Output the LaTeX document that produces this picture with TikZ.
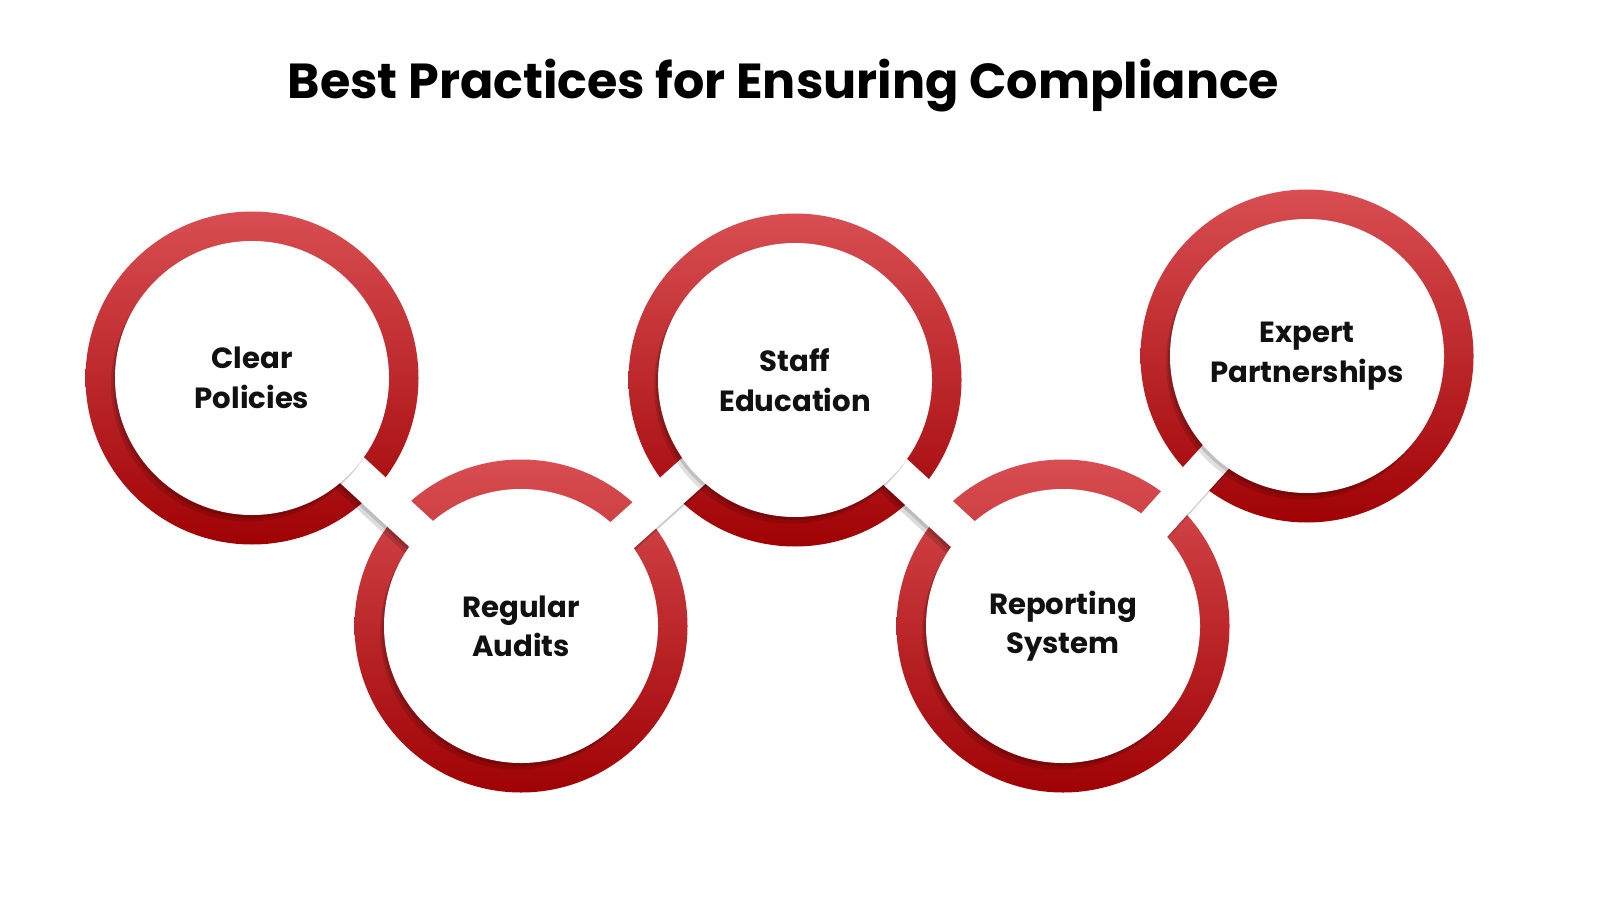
\documentclass[tikz,border=0pt]{standalone}
\usepackage{fontspec}
\setmainfont{Poppins}
\usetikzlibrary{shadows}

\definecolor{ringtop}{RGB}{216,78,82}
\definecolor{ringbot}{RGB}{160,2,4}
\definecolor{inktext}{RGB}{17,17,17}

\pgfdeclarelayer{rings}
\pgfdeclarelayer{links}
\pgfsetlayers{rings,links,main}

\begin{document}
\begin{tikzpicture}
       \tikzset{
         ring/.style={top color=ringtop, bottom color=ringbot},
         disc/.style={circle, fill=white, minimum size=2.74cm, inner sep=0pt,
                      align=center, text=inktext, font=\fontsize{8.3}{11.2}\selectfont\bfseries,
                      drop shadow={shadow xshift=-0.02cm, shadow yshift=-0.03cm, fill=black, opacity=0.14},
                      drop shadow={shadow xshift=-0.04cm, shadow yshift=-0.065cm, fill=black, opacity=0.12}},
         link/.style={line width=0.35cm, draw=white},
         linkshadow/.style={line width=0.35cm, draw=black, opacity=0.14}
       }
       \useasboundingbox (0,0) rectangle (16,9);

       \node[font=\fontsize{14}{17}\selectfont\bfseries, text=black] (title) at (7.835,8.14)
            {Best Practices for Ensuring Compliance};

       \node[disc] (clear)    at (2.52,5.22)  {Clear\\Policies};
       \node[disc] (audits)   at (5.21,2.74)  {Regular\\Audits};
       \node[disc] (staff)    at (7.95,5.20)  {Staff\\Education};
       \node[disc] (report)   at (10.63,2.74) {Reporting\\System};
       \node[disc] (expert)   at (13.07,5.44) {Expert\\Partnerships};

       \begin{pgfonlayer}{rings}
         \fill[white] (0,0) rectangle (16,9);
         \foreach \n in {clear,audits,staff,report,expert}
           \shade[ring] (\n.center) circle (1.665);
       \end{pgfonlayer}

       \begin{pgfonlayer}{links}
         \foreach \a/\b in {clear/audits,audits/staff,staff/report,report/expert}{
           \draw[linkshadow, transform canvas={shift={(-0.02,-0.03)}}] (\a.center) -- (\b.center);
           \draw[linkshadow, transform canvas={shift={(-0.04,-0.065)}}] (\a.center) -- (\b.center);
           \draw[link] (\a.center) -- (\b.center);
         }
       \end{pgfonlayer}
\end{tikzpicture}
\end{document}
